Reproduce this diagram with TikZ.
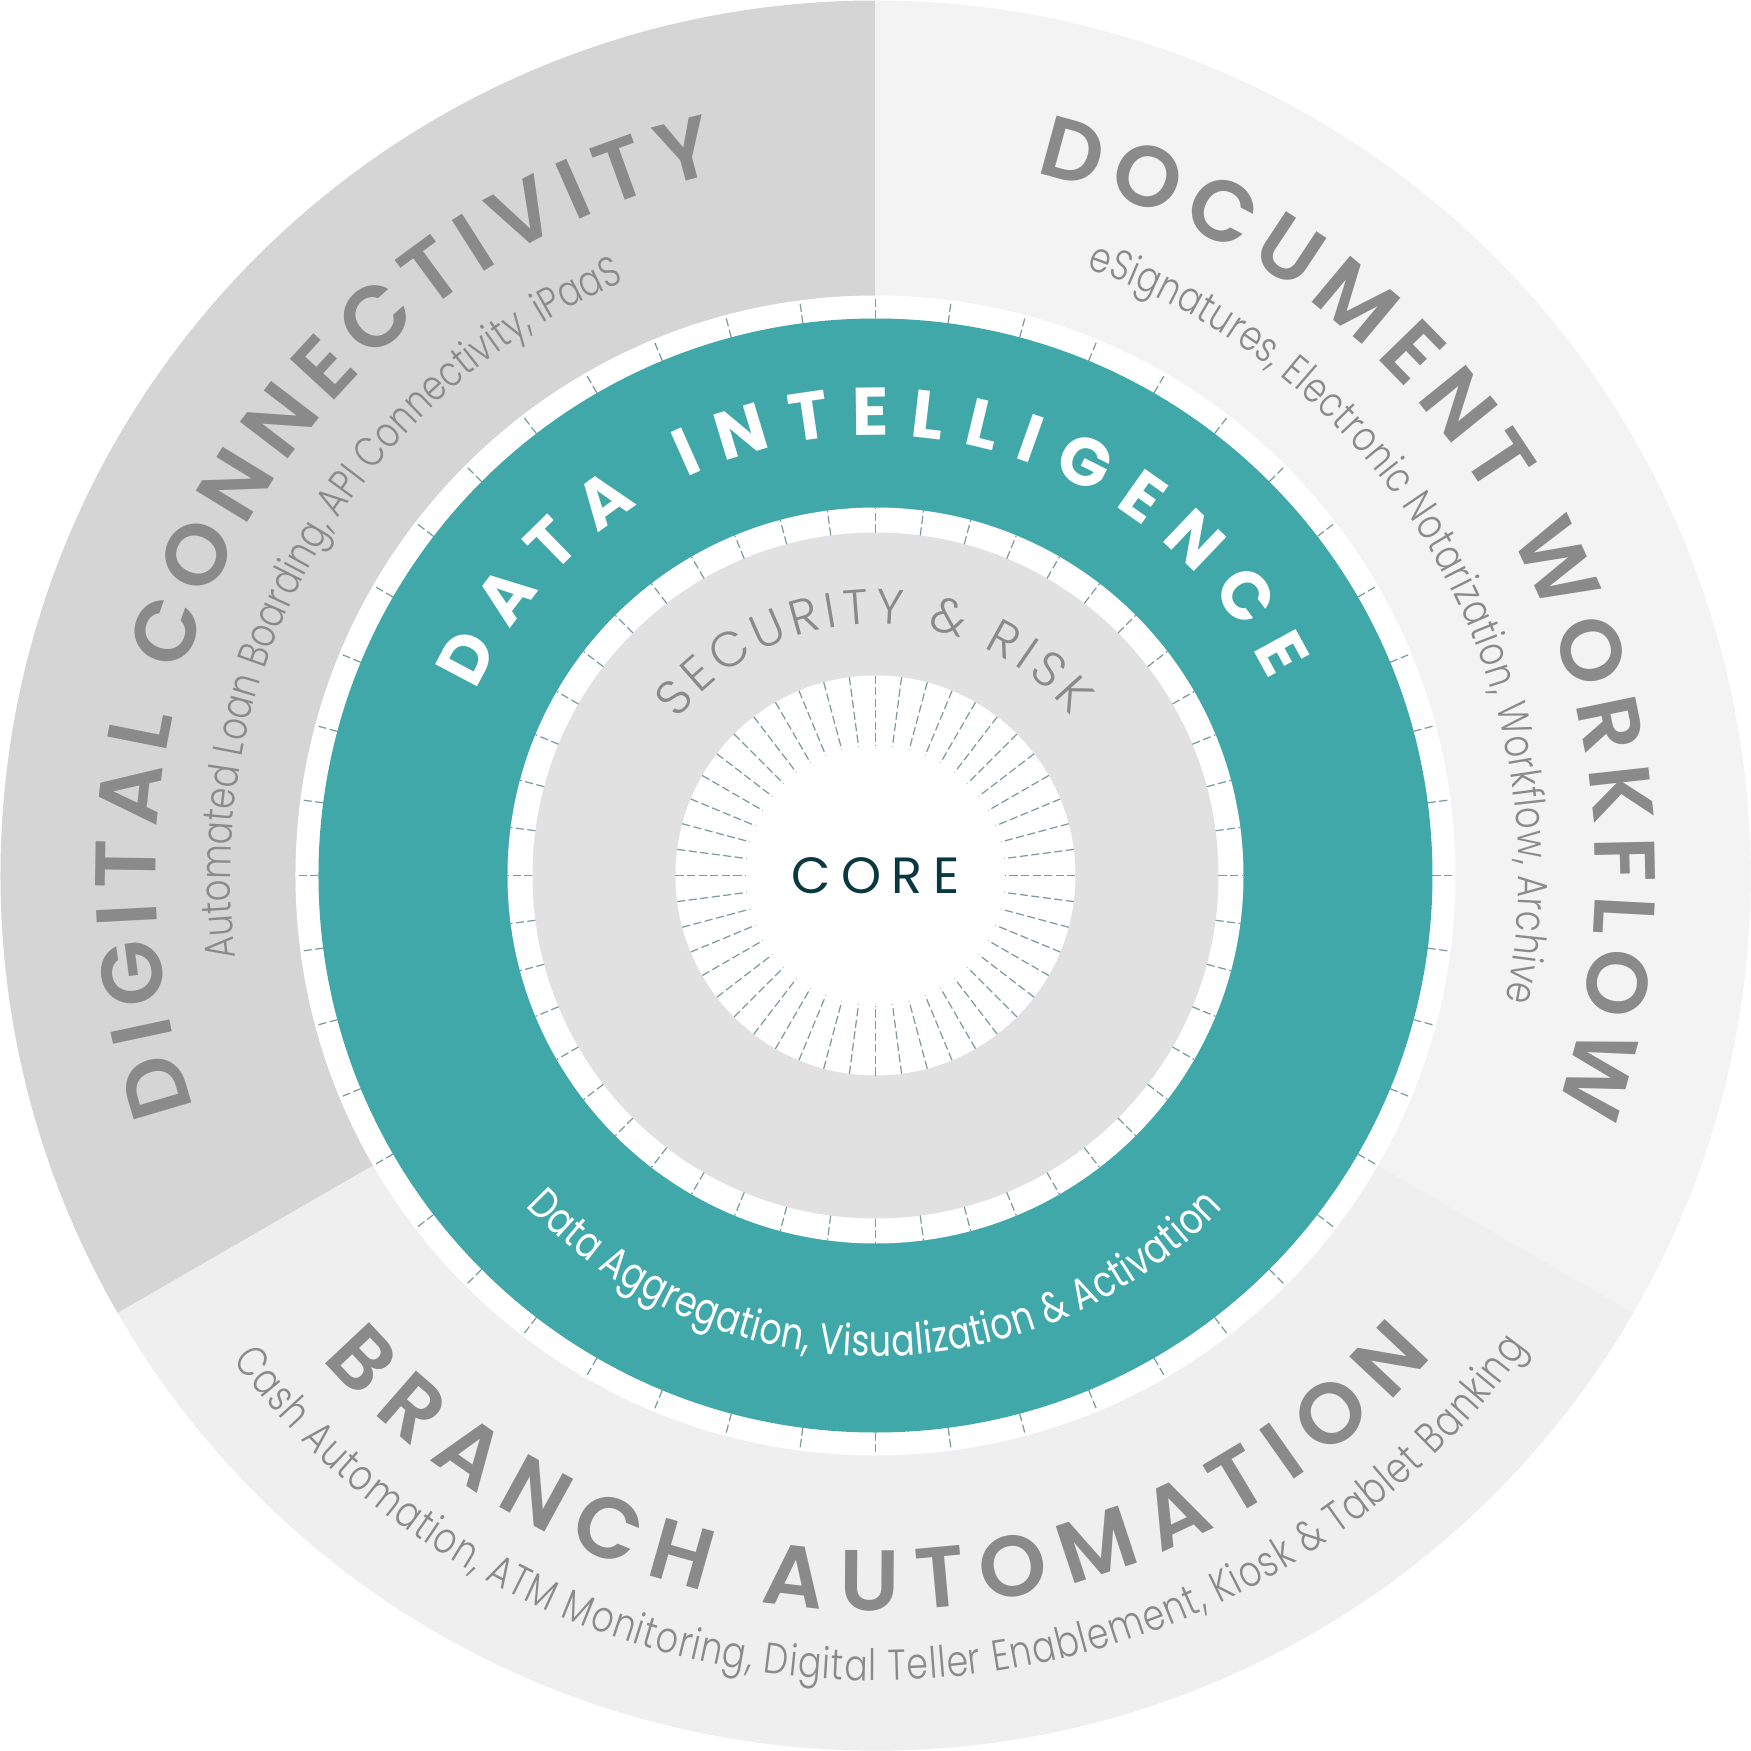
\documentclass[tikz,border=0pt]{standalone}
\usepackage{fontspec}
\setmainfont{Poppins}
\newfontfamily\headfont{Poppins SemiBold}
\newfontfamily\lightfont{Poppins Light}[FakeStretch=0.8]
\newfontfamily\thinfont{Poppins Light}
\newfontfamily\smallfont{Poppins}[FakeStretch=0.8]
\usetikzlibrary{decorations.text}
\definecolor{dcgray}{RGB}{213,213,213}
\definecolor{dwgray}{RGB}{243,243,243}
\definecolor{bagray}{RGB}{239,239,239}
\definecolor{srgray}{RGB}{225,225,225}
\definecolor{diteal}{RGB}{65,168,169}
\definecolor{txtgray}{RGB}{138,138,138}
\definecolor{tickgray}{RGB}{125,155,160}
\definecolor{coreink}{RGB}{10,56,64}

\begin{document}
\begin{tikzpicture}[
  tick/.style={draw=tickgray, line width=0.35pt, dash pattern=on 2.3pt off 1pt},
  ringtext/.style={decorate, decoration={text along path, text align=fit to path, text color=#1}}]
% 背景
\fill[white] (-8.755,-8.755) rectangle (8.755,8.755);
\useasboundingbox (-8.755,-8.755) rectangle (8.755,8.755);
% 三扇区
\fill[dcgray] (0,0) -- (90:8.75) arc[start angle=90, end angle=210, radius=8.75] -- cycle;
\fill[dwgray] (0,0) -- (-30:8.75) arc[start angle=-30, end angle=90, radius=8.75] -- cycle;
\fill[bagray] (0,0) -- (210:8.75) arc[start angle=210, end angle=330, radius=8.75] -- cycle;
% 圆环
\fill[white] (0,0) circle (5.80);
\fill[diteal] (0,0) circle (5.57);
\fill[white] (0,0) circle (3.68);
\fill[srgray] (0,0) circle (3.43);
\fill[white] (0,0) circle (2.00);
% 刻度
\foreach \a in {0,7.5,...,352.5} {
  \draw[tick] (\a:5.57) -- (\a:5.80);
  \draw[tick] (\a:3.43) -- (\a:3.68);
  \draw[tick] (\a:2.00) -- (\a:1.30);
}
%Text
\path[ringtext=txtgray, decoration={text={|\headfont\fontsize{24.5}{29}\selectfont|DIGITAL CONNECTIVITY}}]
  (198.9:7.20) arc[start angle=198.9, end angle=102.6, radius=7.20];
\path[ringtext=txtgray, decoration={text={|\lightfont\fontsize{12}{14}\selectfont|Automated Loan Boarding, API Connectivity, iPaaS}}]
  (187.3:6.45) arc[start angle=187.3, end angle=113.0, radius=6.45];
\path[ringtext=txtgray, decoration={text={|\headfont\fontsize{24.5}{29}\selectfont|DOCUMENT WORKFLOW}}]
  (77.2:7.20) arc[start angle=77.2, end angle=-18.9, radius=7.20];
\path[ringtext=txtgray, decoration={text={|\lightfont\fontsize{12}{14}\selectfont|eSignatures, Electronic Notarization, Workflow, Archive}}]
  (70.8:6.43) arc[start angle=70.8, end angle=-11.2, radius=6.43];
\path[ringtext=txtgray, decoration={text={|\headfont\fontsize{24.5}{29}\selectfont|BRANCH AUTOMATION}}]
  (221.1:7.35) arc[start angle=221.1, end angle=319.2, radius=7.35];
\path[ringtext=txtgray, decoration={text={|\lightfont\fontsize{12.3}{15}\selectfont|Cash Automation, ATM Monitoring, Digital Teller Enablement, Kiosk {\&} Tablet Banking}}]
  (217.0:8.05) arc[start angle=217.0, end angle=324.0, radius=8.05];
\path[ringtext=white, decoration={text={|\bfseries\fontsize{19.2}{23}\selectfont|DATA INTELLIGENCE}}]
  (155.2:4.40) arc[start angle=155.2, end angle=26.3, radius=4.40];
\path[ringtext=white, decoration={text={|\smallfont\fontsize{12.3}{15}\selectfont|Data Aggregation, Visualization {\&} Activation}}]
  (223.4:4.81) arc[start angle=223.4, end angle=316.3, radius=4.81];
\path[ringtext=txtgray, decoration={text={|\thinfont\fontsize{14}{17}\selectfont|SECURITY {\&} RISK}}]
  (141.8:2.52) arc[start angle=141.8, end angle=39.0, radius=2.52];
\node[text=coreink, font=\fontsize{14.5}{17}\selectfont] (core) at (0,0) {C\kern3pt O\kern3pt R\kern3pt E};
\end{tikzpicture}
\end{document}
